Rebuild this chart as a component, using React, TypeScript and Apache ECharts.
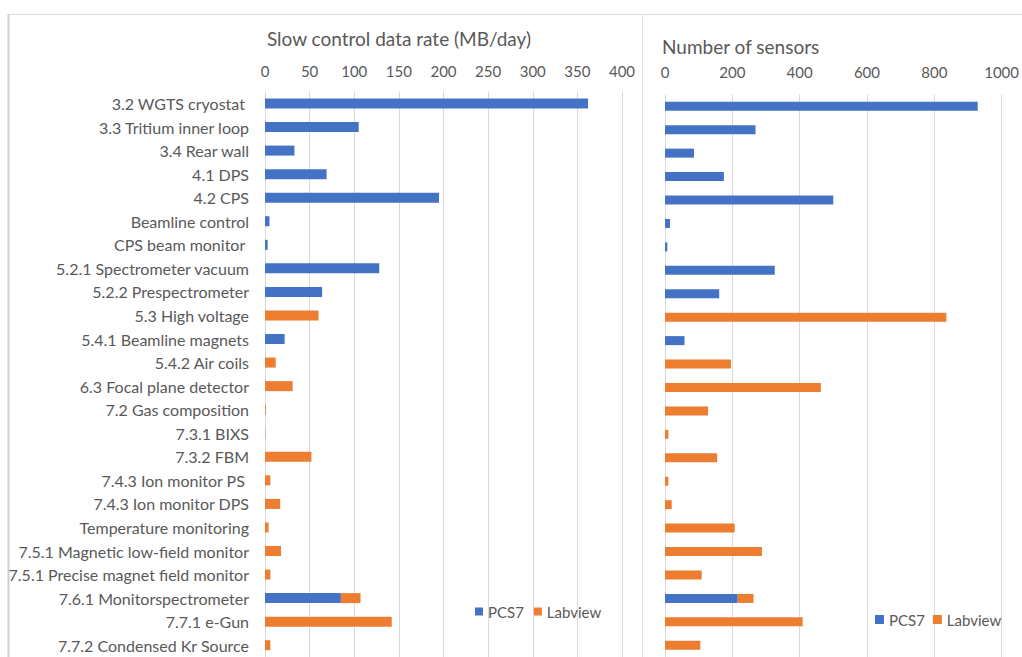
import React, { useEffect, useRef } from "react";
import * as echarts from "echarts";

const categories = [
  "3.2 WGTS cryostat ",
  "3.3 Tritium inner loop",
  "3.4 Rear wall",
  "4.1 DPS",
  "4.2 CPS",
  "Beamline control",
  "CPS beam monitor ",
  "5.2.1 Spectrometer vacuum",
  "5.2.2 Prespectrometer",
  "5.3 High voltage",
  "5.4.1 Beamline magnets",
  "5.4.2 Air coils",
  "6.3 Focal plane detector",
  "7.2 Gas composition",
  "7.3.1 BIXS",
  "7.3.2 FBM",
  "7.4.3 Ion monitor PS ",
  "7.4.3 Ion monitor DPS",
  "Temperature monitoring",
  "7.5.1 Magnetic low-field monitor",
  "7.5.1 Precise magnet field monitor",
  "7.6.1 Monitorspectrometer",
  "7.7.1 e-Gun",
  "7.7.2 Condensed Kr Source",
];

const rateTicks = [0, 50, 100, 150, 200, 250, 300, 350, 400];
const sensorTicks = [0, 200, 400, 600, 800, 1000];

const ratePCS7 = [362, 105, 33, 69, 195, 5, 3, 128, 64, 0, 22, 0, 0, 0, 0, 0, 0, 0, 0, 0, 0, 85, 0, 0];
const rateLabview = [0, 0, 0, 0, 0, 0, 0, 0, 0, 60, 0, 12, 31, 1, 0.4, 52, 6, 17, 4, 18, 6, 22, 142, 6];

const sensorsPCS7 = [929, 269, 86, 175, 500, 15, 7, 326, 161, 0, 58, 0, 0, 0, 0, 0, 0, 0, 0, 0, 0, 216, 0, 0];
const sensorsLabview = [0, 0, 0, 0, 0, 0, 0, 0, 0, 836, 0, 196, 463, 128, 10, 155, 10, 20, 207, 288, 109, 47, 409, 105];

const BLUE = "#4472C4";
const ORANGE = "#ED7D31";
const TEXT = "#595959";
const GRID = "#d9d9d9";
const FONT = "Lato, 'Open Sans', sans-serif";

export default function App() {
  const ref = useRef<HTMLDivElement>(null);

  useEffect(() => {
    if (!ref.current) return;
    const chart = echarts.init(ref.current, undefined, { renderer: "svg" });
    const n = categories.length;
    const leftRow = 24.59;
    const rightRow = 24.93;

    const xCommon = {
      type: "value" as const,
      position: "top" as const,
      axisLine: { show: false },
      axisTick: { show: false },
      splitLine: { show: true, lineStyle: { color: GRID, width: 1 } },
      axisLabel: { color: TEXT, fontSize: 15, fontFamily: FONT, margin: 13, formatter: (v: number) => String(v) },
    };

    chart.setOption({
      animation: false,
      backgroundColor: "#ffffff",
      textStyle: { fontFamily: FONT },
      grid: [
        { left: 265, top: 104 - leftRow / 2, width: 357, height: leftRow * n },
        { left: 665, top: 107 - rightRow / 2, width: 340, height: rightRow * n },
      ],
      xAxis: [
        { ...xCommon, gridIndex: 0, min: rateTicks[0], max: rateTicks[rateTicks.length - 1], interval: 50 },
        { ...xCommon, gridIndex: 1, min: sensorTicks[0], max: sensorTicks[sensorTicks.length - 1], interval: 200, axisLabel: { ...xCommon.axisLabel, margin: 15 } },
      ],
      yAxis: [
        {
          type: "category",
          gridIndex: 0,
          data: categories,
          inverse: true,
          axisLine: { show: false },
          axisTick: { show: false },
          axisLabel: { color: TEXT, fontSize: 16, fontFamily: FONT, margin: 16, interval: 0 },
        },
        {
          type: "category",
          gridIndex: 1,
          data: categories,
          inverse: true,
          axisLine: { show: false },
          axisTick: { show: false },
          axisLabel: { show: false },
        },
      ],
      legend: [
        {
          data: ["PCS7", "Labview"],
          left: 470,
          top: 599,
          icon: "rect",
          itemWidth: 8,
          itemHeight: 8,
          itemGap: 10,
          textStyle: { color: TEXT, fontSize: 15, fontFamily: FONT },
        },
        {
          data: ["PCS7", "Labview"],
          left: 870,
          top: 607,
          icon: "rect",
          itemWidth: 9,
          itemHeight: 9,
          itemGap: 8,
          textStyle: { color: TEXT, fontSize: 15, fontFamily: FONT },
        },
      ],
      series: [
        { name: "PCS7", type: "bar", stack: "rate", xAxisIndex: 0, yAxisIndex: 0, data: ratePCS7, barWidth: 10, itemStyle: { color: BLUE } },
        { name: "Labview", type: "bar", stack: "rate", xAxisIndex: 0, yAxisIndex: 0, data: rateLabview, barWidth: 10, itemStyle: { color: ORANGE } },
        { name: "PCS7", type: "bar", stack: "sens", xAxisIndex: 1, yAxisIndex: 1, data: sensorsPCS7, barWidth: 9, itemStyle: { color: BLUE } },
        { name: "Labview", type: "bar", stack: "sens", xAxisIndex: 1, yAxisIndex: 1, data: sensorsLabview, barWidth: 9, itemStyle: { color: ORANGE } },
      ],
      graphic: [
        { type: "line", shape: { x1: 8, y1: 14.5, x2: 1022, y2: 14.5 }, style: { stroke: "#dcdcdc", lineWidth: 1 }, silent: true },
        { type: "line", shape: { x1: 8.5, y1: 14, x2: 8.5, y2: 657 }, style: { stroke: "#d0d0d0", lineWidth: 2 }, silent: true },
        { type: "line", shape: { x1: 642.5, y1: 14, x2: 642.5, y2: 657 }, style: { stroke: "#e3e3e3", lineWidth: 1 }, silent: true },
        {
          type: "text",
          x: 399,
          y: 38,
          style: { text: "Slow control data rate (MB/day)", fill: TEXT, font: `19px ${FONT}`, textAlign: "center", textVerticalAlign: "middle" },
        },
        {
          type: "text",
          x: 662,
          y: 46,
          style: { text: "Number of sensors", fill: TEXT, font: `19px ${FONT}`, textAlign: "left", textVerticalAlign: "middle" },
        },
      ],
    });

    return () => chart.dispose();
  }, []);

  return (
    <div
      ref={ref}
      style={{ position: "absolute", left: 0, top: 0, width: 1022, height: 657, background: "#fff" }}
    />
  );
}
